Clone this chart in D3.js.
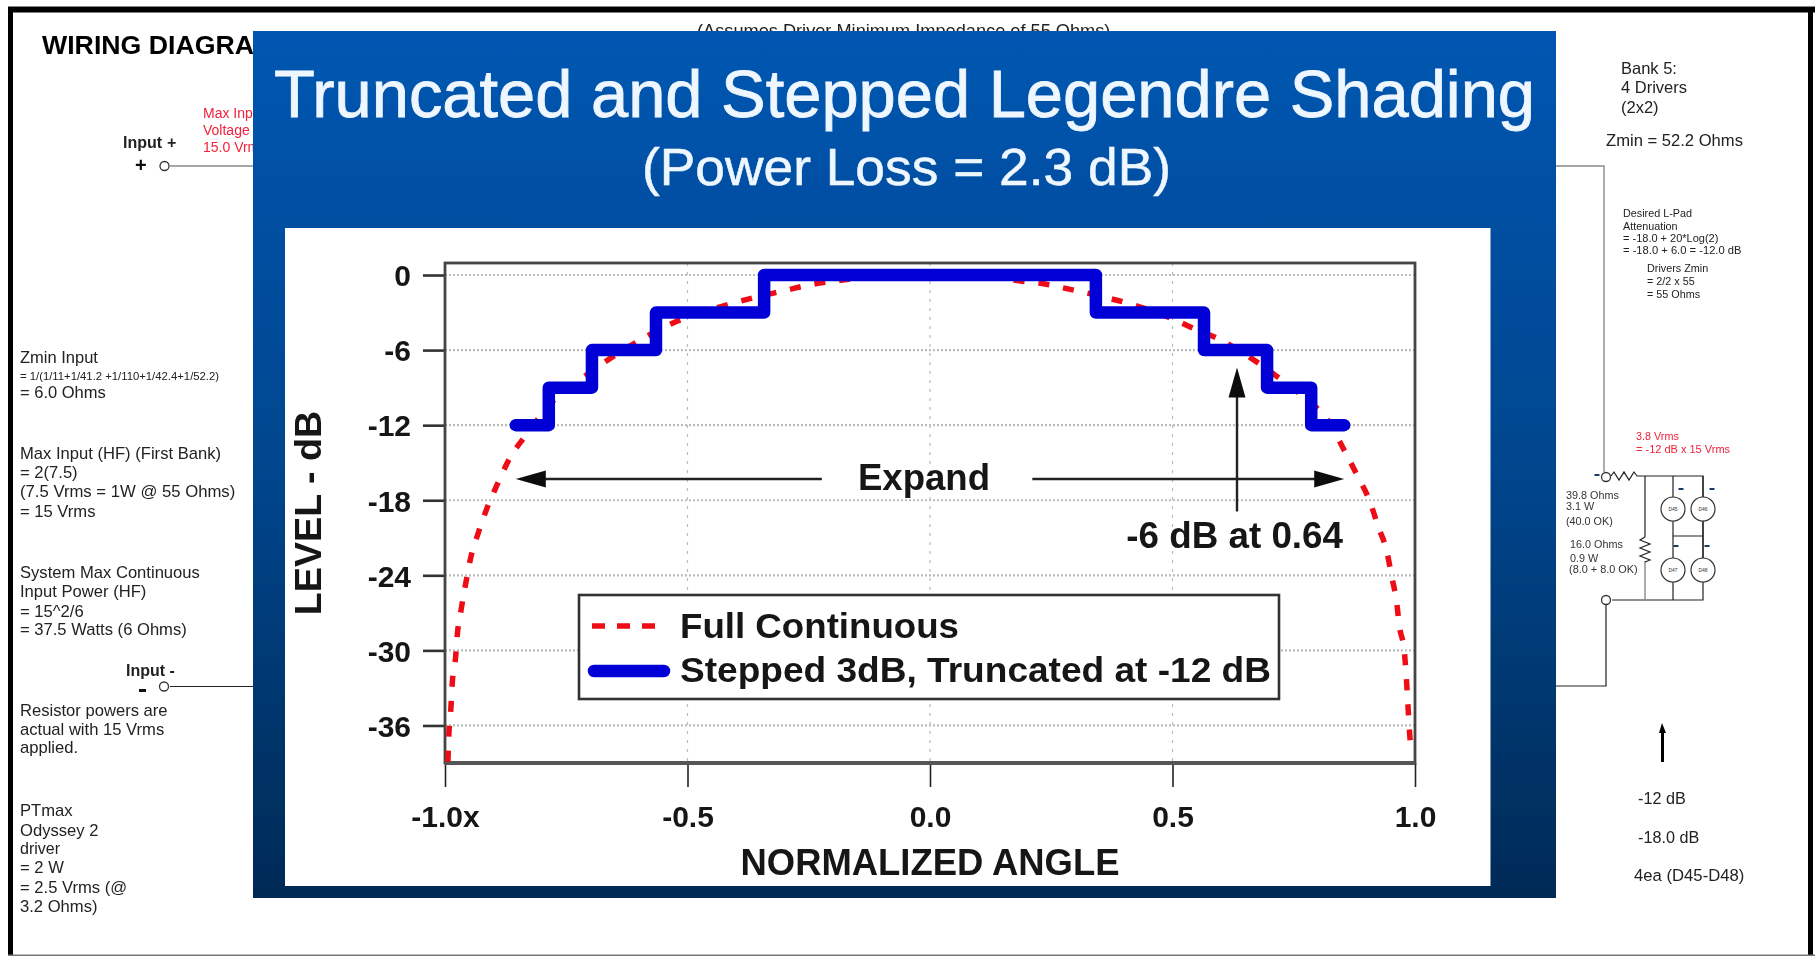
<!DOCTYPE html>
<html>
<head>
<meta charset="utf-8">
<title>Truncated and Stepped Legendre Shading</title>
<script src="https://cdn.jsdelivr.net/npm/d3@7"></script>
<style>
    html, body { margin: 0; padding: 0; background: #fff; }
    svg { display: block; font-family: "Liberation Sans", Arial, sans-serif; }
    .wire { fill: none; stroke: #222; stroke-width: 1.2; }
    .wire-grey { fill: none; stroke: #8a8a8a; stroke-width: 1.4; }
    .tick-text { font-weight: bold; font-size: 30px; fill: #151515; }
</style>
</head>
<body>
<div id="chart"></div>
<script>
// chart values
const levelTicks = [0, -6, -12, -18, -24, -30, -36];
const angleTicks = [-1, -0.5, 0, 0.5, 1];
const angleTickLabels = ["-1.0x", "-0.5", "0.0", "0.5", "1.0"];

const stepAngles = [-0.854, -0.786, -0.697, -0.565, -0.342, 0.342, 0.565, 0.695, 0.786, 0.854];
const stepLevels = [-12, -9, -6, -3, 0, -3, -6, -9, -12, -12];

const fullAngles = [-0.994, -0.992, -0.988, -0.985, -0.978, -0.975, -0.967, -0.957, -0.947, -0.933,
    -0.915, -0.893, -0.866, -0.835, -0.804, -0.768, -0.723, -0.68, -0.602, -0.522,
    -0.429, -0.383, -0.295, -0.25, -0.2, -0.12, 0, 0.12, 0.19, 0.234,
    0.277, 0.325, 0.368, 0.412, 0.506, 0.542, 0.589, 0.672, 0.715, 0.775,
    0.82, 0.854, 0.882, 0.907, 0.924, 0.942, 0.952, 0.962, 0.968, 0.978,
    0.982, 0.985, 0.988, 0.992];
const fullLevels = [-38.9, -36.7, -34.7, -32.6, -30.5, -28.9, -26.8, -24.6, -22.6, -20.8,
    -18.8, -16.8, -14.6, -12.9, -11.3, -9.7, -8.4, -7.2, -5.3, -3.7,
    -2.5, -2.0, -1.2, -0.8, -0.5, -0.15, 0, -0.15, -0.5, -0.7,
    -1.05, -1.45, -1.85, -2.3, -3.6, -4.25, -5, -6.9, -8.1, -9.9,
    -11.6, -14, -16.1, -18.1, -20.1, -22.1, -24.1, -26.1, -28.1, -30.1,
    -32.1, -34.1, -36.1, -38.2];

const legendNames = ["Full Continuous", "Stepped 3dB, Truncated at -12 dB"];

// text of the wiring sheet behind the slide
const sheetText = [
    ["WIRING DIAGRAM", 42, 54, 26.7, "bold", "#000"],
    ["(Assumes Driver Minimum Impedance of 55 Ohms)", 697, 37, 18.2, "normal", "#222"],
    ["Input", 123, 148, 16, "bold", "#222"],
    ["+", 167, 148, 16, "bold", "#222"],
    ["+", 135, 172, 20, "bold", "#111"],
    ["Max Input", 203, 118, 14, "normal", "#f2213a"],
    ["Voltage", 203, 135, 14, "normal", "#f2213a"],
    ["15.0 Vrms", 203, 152, 14, "normal", "#f2213a"],
    ["Zmin Input", 20, 363, 16.5, "normal", "#222"],
    ["= 1/(1/11+1/41.2 +1/110+1/42.4+1/52.2)", 20, 380, 11.3, "normal", "#222"],
    ["= 6.0 Ohms", 20, 398, 16.5, "normal", "#222"],
    ["Max Input (HF) (First Bank)", 20, 458.6, 16.6, "normal", "#222"],
    ["= 2(7.5)", 20, 478, 16.6, "normal", "#222"],
    ["(7.5 Vrms = 1W @ 55 Ohms)", 20, 497, 16.7, "normal", "#222"],
    ["= 15 Vrms", 20, 517, 16.6, "normal", "#222"],
    ["System Max Continuous", 20, 578, 16.6, "normal", "#222"],
    ["Input Power (HF)", 20, 597, 16.6, "normal", "#222"],
    ["= 15^2/6", 20, 617, 16.6, "normal", "#222"],
    ["= 37.5 Watts (6 Ohms)", 20, 635, 16.6, "normal", "#222"],
    ["Input -", 126, 676, 16, "bold", "#222"],
    ["Resistor powers are", 20, 716, 16.6, "normal", "#222"],
    ["actual with 15 Vrms", 20, 735, 16.6, "normal", "#222"],
    ["applied.", 20, 753, 16.6, "normal", "#222"],
    ["PTmax", 20, 816, 16.6, "normal", "#222"],
    ["Odyssey 2", 20, 836, 16.6, "normal", "#222"],
    ["driver", 20, 853.5, 16, "normal", "#222"],
    ["= 2 W", 20, 873, 16.6, "normal", "#222"],
    ["= 2.5 Vrms (@", 20, 893, 16.6, "normal", "#222"],
    ["3.2 Ohms)", 20, 912, 16.6, "normal", "#222"],
    ["Bank 5:", 1621, 74, 16.5, "normal", "#222"],
    ["4 Drivers", 1621, 93, 16.5, "normal", "#222"],
    ["(2x2)", 1621, 113, 16.5, "normal", "#222"],
    ["Zmin = 52.2 Ohms", 1606, 146, 16.6, "normal", "#222"],
    ["Desired L-Pad", 1623, 217, 10.8, "normal", "#222"],
    ["Attenuation", 1623, 230, 10.8, "normal", "#222"],
    ["= -18.0 + 20*Log(2)", 1623, 242, 11, "normal", "#222"],
    ["= -18.0 + 6.0 = -12.0 dB", 1623, 254, 11.2, "normal", "#222"],
    ["Drivers Zmin", 1647, 272, 10.8, "normal", "#222"],
    ["= 2/2 x 55", 1647, 285, 10.8, "normal", "#222"],
    ["= 55 Ohms", 1647, 298, 10.8, "normal", "#222"],
    ["3.8 Vrms", 1636, 440, 10.8, "normal", "#f2213a"],
    ["= -12 dB x 15 Vrms", 1636, 453, 11, "normal", "#f2213a"],
    ["39.8 Ohms", 1566, 499, 10.8, "normal", "#333"],
    ["3.1 W", 1566, 510, 10.8, "normal", "#333"],
    ["(40.0 OK)", 1566, 525, 10.8, "normal", "#333"],
    ["16.0 Ohms", 1570, 548, 10.8, "normal", "#333"],
    ["0.9 W", 1570, 562, 10.8, "normal", "#333"],
    ["(8.0 + 8.0 OK)", 1569, 573, 10.9, "normal", "#333"],
    ["-12 dB", 1638, 804, 16.2, "normal", "#222"],
    ["-18.0 dB", 1638, 843, 16.2, "normal", "#222"],
    ["4ea (D45-D48)", 1634, 881, 16.7, "normal", "#222"]
];

const width = 1815;
const height = 956;

const svg = d3.select("#chart").append("svg")
    .attr("width", width)
    .attr("height", height);

const defs = svg.append("defs");
const grad = defs.append("linearGradient")
    .attr("id", "slideBlue")
    .attr("x1", 0).attr("y1", 0).attr("x2", 0).attr("y2", 1);
grad.append("stop").attr("offset", "0%").attr("stop-color", "#0556b1");
grad.append("stop").attr("offset", "50%").attr("stop-color", "#00468e");
grad.append("stop").attr("offset", "100%").attr("stop-color", "#002a56");

defs.append("filter")
    .attr("id", "soft")
    .append("feGaussianBlur")
    .attr("stdDeviation", 0.6);
defs.append("filter")
    .attr("id", "softer")
    .append("feGaussianBlur")
    .attr("stdDeviation", 0.3);

drawSheet();
drawSlide();

function drawSheet() {
    let sheet = svg.append("g").attr("class", "sheet");

    // page frame
    sheet.append("rect").attr("x", 8).attr("y", 6).attr("width", width - 8).attr("height", 1.5).attr("fill", "#888");
    sheet.append("rect").attr("x", 8).attr("y", 7).attr("width", width - 8).attr("height", 5.5).attr("fill", "#000");
    sheet.append("rect").attr("x", 8).attr("y", 7).attr("width", 5).attr("height", height - 7).attr("fill", "#000");
    sheet.append("rect").attr("x", 1808).attr("y", 7).attr("width", 5).attr("height", height - 7).attr("fill", "#000");
    sheet.append("rect").attr("x", 8).attr("y", 954.5).attr("width", width - 8).attr("height", 1.5).attr("fill", "#777");

    // wires
    let wires = [
        ["wire-grey", "M170,166H260M1550,166H1604V472"],
        ["wire", "M170,686.5H260M1550,686H1606V605"],
        ["wire", "M1640,476H1703V600H1612"],
        ["wire", "M1645,476V537M1673,476V497M1703,476V497M1673,521V558M1703,521V558M1673,536H1703M1673,582V600"],
        ["wire-grey", "M1645,561V600"],
        ["wire", "M1611,476l3,-4l5,8l5,-8l5,8l5,-8l3,4l3,0"],
        ["wire", "M1645,537l-5,3l10,4l-10,4l10,4l-10,4l10,4l-5,2"]
    ];
    sheet.selectAll("path.sheet-wire")
        .data(wires)
        .enter()
        .append("path")
        .attr("class", d => "sheet-wire " + d[0])
        .attr("d", d => d[1]);

    // terminals
    let terminals = [[164.5, 166], [164, 686.5], [1606, 477], [1606, 600]];
    sheet.selectAll("circle.terminal")
        .data(terminals)
        .enter()
        .append("circle")
        .attr("class", "terminal")
        .attr("cx", d => d[0])
        .attr("cy", d => d[1])
        .attr("r", 4.5)
        .attr("fill", "#fff")
        .attr("stroke", "#333")
        .attr("stroke-width", 1.3);

    // drivers
    let drivers = [["D45", 1673, 509], ["D46", 1703, 509], ["D47", 1673, 570], ["D48", 1703, 570]];
    let driver = sheet.selectAll("g.driver")
        .data(drivers)
        .enter()
        .append("g")
        .attr("class", "driver");
    driver.append("circle")
        .attr("cx", d => d[1])
        .attr("cy", d => d[2])
        .attr("r", 12)
        .attr("fill", "#fff")
        .attr("stroke", "#333")
        .attr("stroke-width", 1.2);
    driver.append("text")
        .attr("x", d => d[1])
        .attr("y", d => d[2] + 2)
        .attr("text-anchor", "middle")
        .attr("font-size", 5)
        .attr("fill", "#333")
        .text(d => d[0]);

    // polarity marks
    let marks = [[1681, 489], [1712, 489], [1676, 546], [1707, 546], [1597, 475]];
    sheet.selectAll("rect.mark")
        .data(marks)
        .enter()
        .append("rect")
        .attr("class", "mark")
        .attr("x", d => d[0] - 2.5)
        .attr("y", d => d[1] - 1)
        .attr("width", 5)
        .attr("height", 2)
        .attr("fill", "#1a3a66");

    // big minus beside input -
    sheet.append("rect").attr("x", 139).attr("y", 689).attr("width", 7).attr("height", 3).attr("fill", "#111");

    // up arrow at lower right
    sheet.append("path")
        .attr("d", "M1662,723l-3,10h2v29h3v-29h2z")
        .attr("fill", "#000");

    sheet.selectAll("text.sheet-text")
        .data(sheetText)
        .enter()
        .append("text")
        .attr("class", "sheet-text")
        .attr("x", d => d[1])
        .attr("y", d => d[2])
        .attr("font-size", d => d[3])
        .attr("font-weight", d => d[4])
        .attr("fill", d => d[5])
        .attr("filter", "url(#softer)")
        .text(d => d[0]);
}

function drawSlide() {
    let slide = svg.append("g").attr("class", "slide").attr("filter", "url(#soft)");

    slide.append("rect")
        .attr("x", 253).attr("y", 31)
        .attr("width", 1303).attr("height", 867)
        .attr("fill", "url(#slideBlue)");

    slide.append("text")
        .attr("x", 904.5)
        .attr("y", 117)
        .attr("text-anchor", "middle")
        .attr("font-size", 67)
        .attr("textLength", 1261)
        .attr("lengthAdjust", "spacingAndGlyphs")
        .attr("fill", "#eef7ff")
        .attr("stroke", "#eef7ff")
        .attr("stroke-width", 0.8)
        .text("Truncated and Stepped Legendre Shading");

    slide.append("text")
        .attr("x", 906.5)
        .attr("y", 185)
        .attr("text-anchor", "middle")
        .attr("font-size", 52)
        .attr("textLength", 529)
        .attr("lengthAdjust", "spacingAndGlyphs")
        .attr("fill", "#eef7ff")
        .attr("stroke", "#eef7ff")
        .attr("stroke-width", 0.5)
        .text("(Power Loss = 2.3 dB)");

    slide.append("rect")
        .attr("x", 285).attr("y", 228)
        .attr("width", 1205.5).attr("height", 658)
        .attr("fill", "#fff");

    // plot area
    let plotLeft = 445, plotRight = 1415, plotTop = 263, plotBottom = 763;

    let xScale = d3.scaleLinear().domain([-1, 1]).range([plotLeft, plotRight]);
    let yScale = d3.scaleLinear().domain([0.96, -39]).range([plotTop, plotBottom]);

    // grid
    slide.append("g")
        .selectAll("line")
        .data(levelTicks)
        .enter()
        .append("line")
        .attr("x1", plotLeft).attr("x2", plotRight)
        .attr("y1", d => yScale(d)).attr("y2", d => yScale(d))
        .attr("stroke", "#bbb")
        .attr("stroke-width", 2.2)
        .attr("stroke-dasharray", "2 2");

    slide.append("g")
        .selectAll("line")
        .data(angleTicks.slice(1, -1))
        .enter()
        .append("line")
        .attr("x1", d => xScale(d)).attr("x2", d => xScale(d))
        .attr("y1", plotTop).attr("y2", plotBottom)
        .attr("stroke", "#bbb")
        .attr("stroke-width", 1.2)
        .attr("stroke-dasharray", "3 6");

    // axes
    let yAxis = slide.append("g")
        .attr("transform", `translate(${plotLeft},0)`)
        .call(d3.axisLeft(yScale).tickValues(levelTicks).tickSize(22).tickPadding(12).tickFormat(d => d));
    yAxis.select(".domain").remove();
    yAxis.selectAll(".tick line").attr("stroke", "#333").attr("stroke-width", 2.6);
    yAxis.selectAll(".tick text").attr("class", "tick-text").attr("dy", "0.36em");

    let xAxis = slide.append("g")
        .attr("transform", `translate(0,${plotBottom})`)
        .call(d3.axisBottom(xScale).tickValues(angleTicks).tickSize(24).tickPadding(19)
            .tickFormat((d, i) => angleTickLabels[i]));
    xAxis.select(".domain").remove();
    xAxis.selectAll(".tick line").attr("stroke", "#222").attr("stroke-width", 1.6);
    xAxis.selectAll(".tick text").attr("class", "tick-text");

    // frame
    slide.append("rect")
        .attr("x", plotLeft).attr("y", plotTop)
        .attr("width", plotRight - plotLeft).attr("height", plotBottom - plotTop)
        .attr("fill", "none")
        .attr("stroke", "#444")
        .attr("stroke-width", 2.8);
    slide.append("line")
        .attr("x1", plotLeft).attr("x2", plotRight)
        .attr("y1", plotBottom).attr("y2", plotBottom)
        .attr("stroke", "#555")
        .attr("stroke-width", 4);

    // curves
    let line = d3.line()
        .x(d => xScale(d[0]))
        .y(d => yScale(d[1]));

    slide.append("path")
        .datum(d3.zip(fullAngles, fullLevels))
        .attr("d", line.curve(d3.curveMonotoneX))
        .attr("fill", "none")
        .attr("stroke", "#ee0a14")
        .attr("stroke-width", 5.5)
        .attr("stroke-dasharray", "11 14");

    slide.append("path")
        .datum(d3.zip(stepAngles, stepLevels))
        .attr("d", line.curve(d3.curveStepAfter))
        .attr("fill", "none")
        .attr("stroke", "#0000d6")
        .attr("stroke-width", 12.5)
        .attr("stroke-linejoin", "round")
        .attr("stroke-linecap", "round");

    // annotations
    let arrows = [
        [-0.223, -16.3, -0.854, -16.3],
        [0.211, -16.3, 0.854, -16.3],
        [0.633, -18.9, 0.633, -7.4]
    ];
    arrows.forEach(a => {
        let x1 = xScale(a[0]), y1 = yScale(a[1]), x2 = xScale(a[2]), y2 = yScale(a[3]);
        let ang = Math.atan2(y2 - y1, x2 - x1);
        slide.append("line")
            .attr("x1", x1).attr("y1", y1)
            .attr("x2", x2 - 20 * Math.cos(ang)).attr("y2", y2 - 20 * Math.sin(ang))
            .attr("stroke", "#222")
            .attr("stroke-width", 2.4);
        slide.append("path")
            .attr("d", "M0,0L-30,-8.5L-30,8.5Z")
            .attr("transform", `translate(${x2},${y2}) rotate(${ang * 180 / Math.PI})`)
            .attr("fill", "#111");
    });

    slide.append("text")
        .attr("x", xScale(0)).attr("y", 490)
        .attr("dx", -6)
        .attr("text-anchor", "middle")
        .attr("font-size", 36.6).attr("font-weight", "bold").attr("fill", "#151515")
        .text("Expand");

    slide.append("text")
        .attr("x", 1343).attr("y", 548)
        .attr("text-anchor", "end")
        .attr("font-size", 36.8).attr("font-weight", "bold").attr("fill", "#151515")
        .text("-6 dB at 0.64");

    // axis titles
    slide.append("text")
        .attr("transform", "translate(321,513) rotate(-90)")
        .attr("text-anchor", "middle")
        .attr("font-size", 37.7).attr("font-weight", "bold").attr("fill", "#151515")
        .text("LEVEL - dB");

    slide.append("text")
        .attr("x", xScale(0)).attr("y", 875)
        .attr("text-anchor", "middle")
        .attr("font-size", 36).attr("font-weight", "bold").attr("fill", "#151515")
        .attr("textLength", 379)
        .attr("lengthAdjust", "spacingAndGlyphs")
        .text("NORMALIZED ANGLE");

    // legend
    let legend = slide.append("g").attr("class", "legend");
    legend.append("rect")
        .attr("x", 579).attr("y", 595)
        .attr("width", 700).attr("height", 104)
        .attr("fill", "#fff")
        .attr("stroke", "#333")
        .attr("stroke-width", 2.6);
    legend.append("line")
        .attr("x1", 592).attr("x2", 655).attr("y1", 626).attr("y2", 626)
        .attr("stroke", "#ee0a14").attr("stroke-width", 5.5).attr("stroke-dasharray", "13 12");
    legend.append("line")
        .attr("x1", 594).attr("x2", 664).attr("y1", 671).attr("y2", 671)
        .attr("stroke", "#0000d6").attr("stroke-width", 12.5).attr("stroke-linecap", "round");
    legend.selectAll("text")
        .data(legendNames)
        .enter()
        .append("text")
        .attr("x", 680)
        .attr("y", (d, i) => i === 0 ? 638 : 682)
        .attr("font-size", 35).attr("font-weight", "bold").attr("fill", "#151515")
        .attr("textLength", (d, i) => i === 0 ? 279 : 591)
        .attr("lengthAdjust", "spacingAndGlyphs")
        .text(d => d);
}
</script>
</body>
</html>
